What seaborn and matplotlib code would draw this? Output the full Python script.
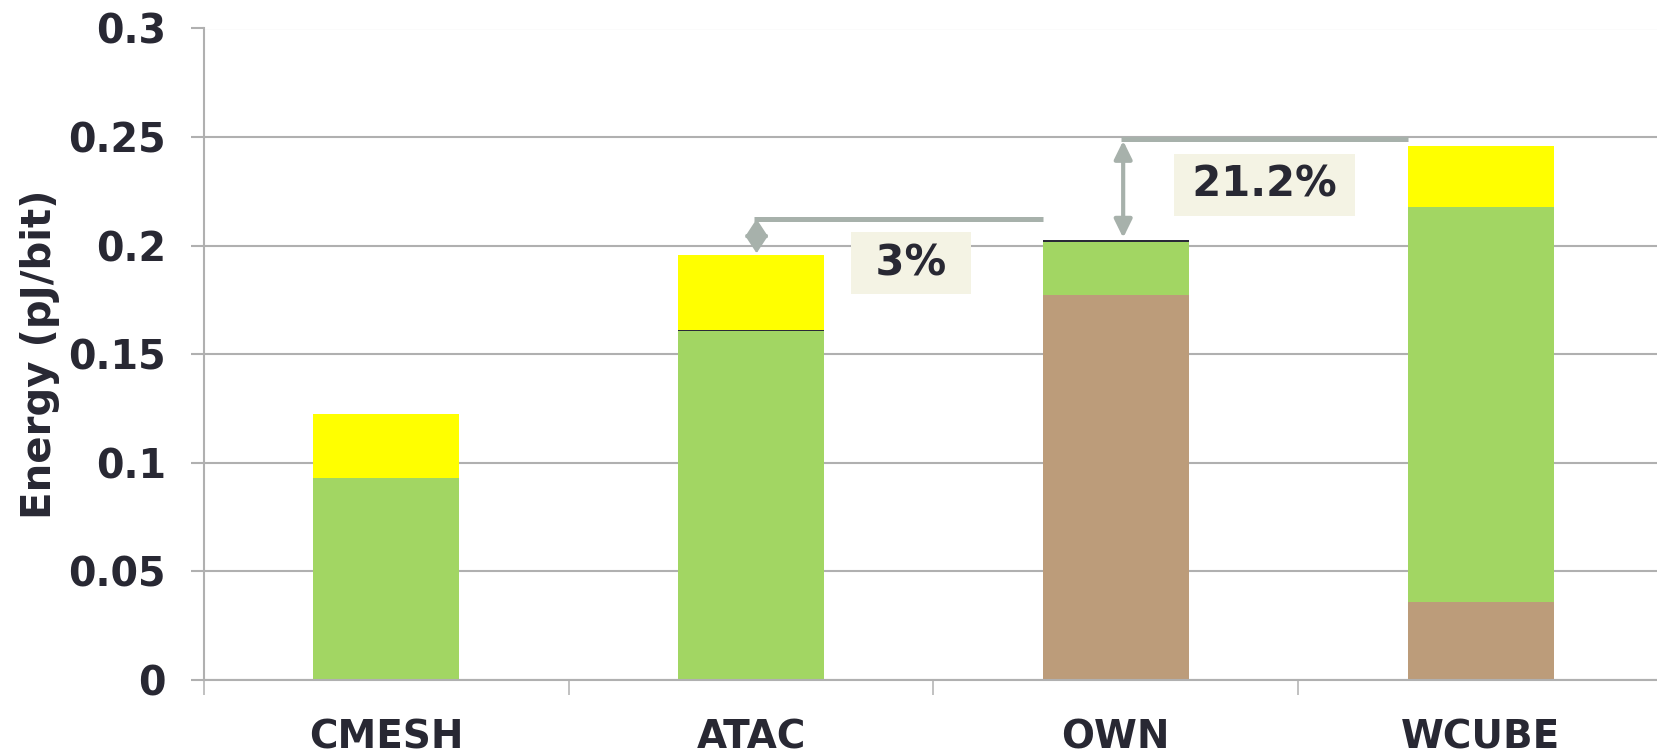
import matplotlib
matplotlib.use("Agg")
import matplotlib.pyplot as plt
from matplotlib.ticker import FixedLocator
import pandas as pd
import seaborn as sns

# Energy per bit of each network, split into stacked components (pJ/bit)
categories = ["CMESH", "ATAC", "OWN", "WCUBE"]
base_energy = [0.0, 0.0, 0.1772, 0.036]
green_energy = [0.093, 0.1607, 0.0244, 0.182]
dark_energy = [0.0, 0.0006, 0.0010, 0.0]
yellow_energy = [0.0297, 0.0344, 0.0, 0.028]

y_ticks = [0, 0.05, 0.1, 0.15, 0.2, 0.25, 0.3]
y_tick_labels = ["0", "0.05", "0.1", "0.15", "0.2", "0.25", "0.3"]
savings_labels = ["3%", "21.2%"]

layer_names = ["base", "green", "dark", "yellow"]
layer_colors = ["#BC9C7A", "#A2D663", "#2B2B38", "#FFFF00"]
text_color = "#282833"
grid_color = "#B0B0B0"
marker_color = "#A7B1AB"
box_color = "#F4F3E4"

sns.set_theme(style="white")
plt.rcParams["font.family"] = ["DejaVu Sans"]
plt.rcParams["font.weight"] = "bold"

df = pd.DataFrame({
    "network": categories,
    "base": base_energy,
    "green": green_energy,
    "dark": dark_energy,
    "yellow": yellow_energy,
})
# cumulative heights so the stack can be drawn back to front
cum = df[layer_names].cumsum(axis=1)
for name in layer_names:
    df["cum_" + name] = cum[name]

fig = plt.figure(figsize=(16.58, 7.55), dpi=100)
ax = fig.add_axes([204 / 1658, 75 / 755, 1459 / 1658, 651.5 / 755])

for name, color in zip(reversed(layer_names), reversed(layer_colors)):
    sns.barplot(data=df, x="network", y="cum_" + name, color=color,
                saturation=1, width=0.4, errorbar=None, linewidth=0,
                ax=ax, zorder=3)

ax.set_xlim(-0.5, 3.5)
ax.set_ylim(0, 0.3)
ax.set_yticks(y_ticks)
ax.set_yticklabels(y_tick_labels)
ax.yaxis.grid(True, color=grid_color, linewidth=1.5, zorder=0)
ax.set_axisbelow(True)

for side in ["top", "right"]:
    ax.spines[side].set_visible(False)
for side in ["left", "bottom"]:
    ax.spines[side].set_color(grid_color)
    ax.spines[side].set_linewidth(1.5)
ax.spines["bottom"].set_zorder(4)

ax.xaxis.set_minor_locator(FixedLocator([-0.5, 0.5, 1.5, 2.5]))
ax.tick_params(axis="x", which="major", length=0, pad=28,
               labelsize=28, labelcolor=text_color)
ax.tick_params(axis="x", which="minor", direction="out", length=10.7,
               width=1.1, color=grid_color, bottom=True)
ax.tick_params(axis="y", direction="out", length=9.4, width=1.5,
               color=grid_color, pad=18, labelsize=28.5, labelcolor=text_color,
               left=True)
for lab in ax.get_xticklabels() + ax.get_yticklabels():
    lab.set_fontweight("bold")

ax.set_xlabel("")
ax.set_ylabel("Energy (pJ/bit)", fontsize=29, fontweight="bold",
              color=text_color, labelpad=6)

# savings markers: ATAC vs OWN and OWN vs WCUBE
totals = df["cum_yellow"].tolist()

# 3% : from the ATAC stack up to the reference line
x3 = 1.015
y3 = 0.2123
ax.plot([x3 - 0.006, 1.8], [y3, y3], color=marker_color, lw=3.6,
        solid_capstyle="butt", zorder=5)
ax.annotate("", xy=(x3, totals[1] + 0.0008), xytext=(x3, y3),
            arrowprops=dict(arrowstyle="<|-|>,head_length=0.55,head_width=0.36",
                            color=marker_color, lw=2, shrinkA=0, shrinkB=0,
                            mutation_scale=20),
            zorder=5)
ax.text(1.438, 0.1918, " " + savings_labels[0] + " ", fontsize=30,
        fontweight="bold", color=text_color, ha="center", va="center",
        bbox=dict(boxstyle="square,pad=0.24", facecolor=box_color,
                  edgecolor="none"), zorder=6)

# 21.2% : from the OWN stack up to the WCUBE level
x21 = 2.02
y21 = 0.2493
ax.plot([x21 - 0.006, 2.8], [y21, y21], color=marker_color, lw=3.6,
        solid_capstyle="butt", zorder=5)
ax.annotate("", xy=(x21, totals[2] + 0.001), xytext=(x21, y21 - 0.001),
            arrowprops=dict(arrowstyle="<|-|>,head_length=0.55,head_width=0.27",
                            color=marker_color, lw=3, shrinkA=0, shrinkB=0,
                            mutation_scale=20),
            zorder=5)
ax.text(2.407, 0.2281, "\u2009" + savings_labels[1] + "\u2009", fontsize=30,
        fontweight="bold", color=text_color, ha="center", va="center",
        bbox=dict(boxstyle="square,pad=0.24", facecolor=box_color,
                  edgecolor="none"), zorder=6)

fig.savefig("out.png", dpi=100)
